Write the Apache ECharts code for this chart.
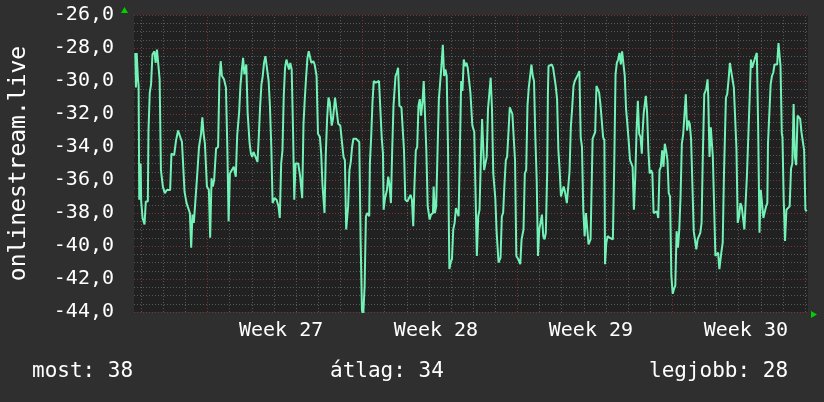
<!DOCTYPE html>
<html>
<head>
<meta charset="utf-8">
<title>onlinestream.live</title>
<script src="https://cdn.jsdelivr.net/npm/echarts@6/dist/echarts.min.js"></script>
<style>
  html, body { margin: 0; padding: 0; background: #2f2f2f; }
  #chart { width: 824px; height: 402px; }
</style>
</head>
<body>
<div id="chart"></div>
<script>
// hours since the left edge of the graph window
var hours = [
  1.4, 2.1, 2.9, 4.3, 5.0, 5.7, 7.2, 7.8, 9.3, 11.4, 12.8, 15.0, 15.7, 17.1, 18.5, 20.0, 22.1, 23.5, 24.9, 26.4,
  27.8, 29.2, 31.3, 33.4, 35.6, 39.2, 40.6, 43.5, 45.6, 47.8, 49.9, 52.0, 53.4, 54.8, 57.0, 59.1, 60.6, 62.0, 63.4, 64.9,
  67.0, 68.4, 70.5, 72.7, 74.1, 75.5, 76.9, 79.1, 81.2, 82.6, 84.1, 85.5, 86.9, 89.0, 91.2, 92.6, 94.0, 95.4, 97.6, 99.7,
  101.2, 102.6, 104.0, 106.1, 108.2, 110.4, 111.9, 114.0, 115.4, 116.8, 118.3, 119.7, 121.8, 123.2, 125.4, 126.8, 128.2, 129.6, 131.8, 133.9,
  135.3, 136.8, 138.2, 139.6, 141.0, 142.5, 143.9, 146.0, 147.4, 148.9, 150.3, 152.4, 154.6, 156.7, 158.1, 159.6, 161.0, 162.4, 163.8, 165.3,
  166.7, 168.1, 169.5, 171.0, 172.4, 173.8, 175.2, 178.1, 180.2, 182.4, 183.8, 185.2, 186.6, 188.1, 189.5, 190.9, 192.3, 194.5, 195.9, 198.0,
  199.5, 201.6, 203.0, 204.4, 206.6, 208.0, 209.4, 210.9, 212.3, 214.4, 215.8, 218.0, 219.4, 221.5, 223.7, 225.8, 227.2, 228.7, 230.1, 232.2,
  233.6, 235.1, 236.5, 237.9, 240.8, 242.9, 244.3, 245.8, 247.2, 248.6, 250.1, 251.5, 252.9, 255.1, 255.8, 257.2, 258.6, 260.0, 262.2, 263.6,
  265.7, 267.2, 268.6, 270.0, 270.7, 272.2, 274.3, 275.7, 277.1, 278.6, 280.0, 281.4, 283.6, 285.0, 286.4, 287.8, 290.0, 291.4, 292.8, 294.2,
  296.4, 298.5, 299.9, 301.4, 302.8, 304.2, 305.6, 307.1, 308.5, 309.9, 311.3, 312.8, 314.2, 315.6, 317.0, 318.5, 320.6, 322.0, 324.2, 324.9,
  326.3, 327.7, 329.2, 330.6, 332.0, 333.4, 334.9, 336.3, 337.7, 339.1, 340.5, 342.0, 343.4, 344.8, 346.2, 347.7, 349.1, 350.5, 352.0, 353.4,
  354.8, 356.2, 357.6, 359.1, 360.5, 361.9, 363.3, 364.8, 366.9, 369.0, 371.8, 373.3, 374.7, 376.1, 377.5, 379.0, 379.7, 381.1, 382.5, 383.9,
  385.4, 386.8, 388.2, 389.6, 391.8, 393.2, 395.3, 397.5, 398.9, 400.3, 401.8, 403.2, 404.6, 406.0, 407.5, 408.9, 410.3, 411.7, 413.2, 414.6,
  416.7, 418.9, 420.3, 422.4, 423.8, 425.3, 426.7, 428.1, 429.5, 431.0, 432.4, 433.8, 435.2, 436.7, 438.1, 439.5, 440.9, 442.4, 443.8, 445.2,
  446.6, 448.1, 448.8, 449.5, 451.6, 453.1, 454.5, 455.9, 457.3, 458.8, 460.2, 461.6, 463.0, 464.5, 465.9, 467.3, 469.4, 470.9, 472.3, 473.7,
  475.1, 476.6, 478.0, 480.1, 481.5, 483.0, 484.4, 485.8, 487.2, 488.7, 490.1, 491.5, 492.9, 495.1, 496.5, 497.3, 498.7, 500.1, 501.5, 503.0,
  504.4, 505.8, 507.2, 508.7, 510.1, 510.8, 512.2, 513.6, 515.8, 517.9, 519.3, 520.8, 522.2, 523.6, 525.0, 526.5, 527.9, 529.3, 530.7, 532.2,
  533.6, 535.0, 536.4, 537.9, 539.3, 540.7, 542.1, 543.6, 545.0, 546.4, 547.8, 549.3, 550.7, 551.4, 552.8, 554.3, 555.0, 556.4, 557.8, 559.2,
  560.7, 562.1, 563.5, 564.9, 567.1, 568.5, 569.9, 571.3, 572.8, 574.2, 575.6, 577.0, 578.5, 579.9, 581.3, 582.7, 584.2, 585.6, 587.0, 588.4,
  589.9, 591.3, 592.7, 594.1, 595.6, 597.0, 598.4, 599.8, 601.3, 602.7, 604.1, 605.5, 607.0, 608.4, 609.8, 611.2, 612.7, 614.1, 615.5, 616.9,
  618.4, 619.8, 620.5, 622.0, 622.7, 624.1, 625.5, 627.0, 627.7, 629.1, 630.5, 631.9, 633.4, 634.8, 636.2, 636.9, 638.4, 639.8, 641.2, 641.9,
  643.3, 644.8, 646.2, 647.6, 649.0, 650.5, 651.9, 653.3, 654.7, 656.2, 657.6, 659.0, 660.4, 661.9, 663.3, 664.7, 666.1, 667.6, 669.0, 670.4,
  671.8, 674.0, 675.4, 676.8, 678.3, 679.7, 681.1, 682.5, 684.0, 685.4, 686.8, 687.5, 688.9, 690.4, 691.8, 693.2, 694.6, 696.1, 697.5, 698.2,
  698.9, 700.3, 701.1, 702.5, 703.2, 704.6, 706.0, 707.5, 708.9, 711.0, 712.5, 713.9, 715.3, 716.7, 718.1, 719.6, 721.0, 722.4, 723.8, 725.3,
  726.7, 728.1, 729.5
];

var values = [
  -28.3, -30.4, -28.3, -29.9, -30.3, -37.2, -35.0, -37.3, -38.3, -38.7, -37.3, -37.3, -33.0, -30.7, -30.2, -28.4, -28.2, -28.9, -28.1, -28.1,
  -29.9, -35.4, -36.4, -36.8, -36.6, -36.6, -34.4, -34.5, -33.6, -33.0, -32.9, -33.7, -33.8, -36.7, -37.4, -37.5, -38.0, -40.1, -38.1, -38.6,
  -38.6, -35.8, -34.0, -33.2, -32.2, -33.2, -33.8, -36.4, -36.6, -39.5, -35.9, -36.4, -36.0, -34.1, -34.0, -29.9, -28.8, -29.7, -29.9, -30.4,
  -34.0, -38.5, -35.6, -35.5, -35.2, -35.8, -33.3, -31.9, -30.3, -29.4, -28.6, -29.6, -29.0, -31.9, -33.8, -34.4, -34.6, -34.3, -34.6, -34.9,
  -33.4, -31.5, -30.2, -29.7, -28.9, -28.5, -29.1, -30.0, -31.5, -34.0, -37.4, -37.1, -37.2, -37.6, -38.3, -35.0, -34.2, -30.9, -29.2, -28.7,
  -28.7, -29.3, -28.9, -29.3, -32.8, -37.2, -35.0, -35.0, -35.8, -37.1, -32.6, -31.1, -29.8, -28.6, -28.2, -28.2, -28.9, -28.8, -29.0, -29.7,
  -33.2, -33.4, -34.4, -36.3, -38.0, -34.4, -32.3, -31.0, -31.3, -32.7, -32.3, -31.0, -31.1, -32.6, -32.7, -32.7, -34.6, -34.8, -39.0, -37.6,
  -35.4, -34.9, -34.0, -33.5, -33.5, -33.5, -33.7, -39.8, -43.9, -44.2, -42.4, -38.2, -38.0, -38.2, -35.0, -33.4, -31.3, -30.0, -30.1, -30.0,
  -30.0, -30.1, -33.4, -34.4, -37.8, -37.1, -36.6, -35.8, -36.3, -37.4, -34.2, -31.5, -29.7, -29.5, -29.2, -31.5, -31.6, -31.7, -34.2, -37.2,
  -37.3, -37.4, -36.9, -37.2, -38.8, -36.2, -34.2, -34.0, -31.5, -31.1, -32.1, -31.3, -30.0, -32.1, -34.2, -37.6, -38.4, -38.1, -38.0, -36.4,
  -38.0, -37.6, -34.2, -31.1, -30.1, -29.1, -27.8, -29.7, -29.3, -29.7, -34.0, -41.4, -41.0, -40.8, -39.0, -38.6, -37.7, -37.8, -38.2, -34.2,
  -30.0, -30.6, -28.7, -29.1, -28.9, -29.2, -29.2, -30.7, -32.7, -33.1, -40.6, -38.2, -37.8, -34.8, -32.3, -32.3, -35.4, -35.4, -34.6, -31.7,
  -31.7, -29.8, -31.7, -35.6, -37.1, -39.1, -41.0, -40.7, -38.2, -38.0, -36.2, -34.8, -34.6, -33.2, -31.6, -31.5, -32.0, -32.1, -34.8, -40.6,
  -40.8, -41.1, -39.6, -39.0, -35.6, -35.4, -31.5, -30.4, -30.3, -29.0, -29.7, -30.0, -33.4, -36.0, -40.6, -39.0, -39.0, -38.1, -39.4, -39.6,
  -39.2, -35.4, -30.9, -29.1, -29.2, -29.0, -29.2, -29.3, -30.3, -31.1, -34.2, -35.4, -37.0, -36.9, -36.4, -36.7, -37.4, -37.4, -35.5, -32.8,
  -31.7, -30.3, -30.0, -29.9, -29.6, -29.4, -33.4, -34.0, -37.8, -39.4, -38.0, -38.0, -39.9, -39.6, -35.8, -33.5, -33.3, -33.1, -30.3, -30.3,
  -30.7, -31.4, -31.5, -33.4, -33.6, -41.1, -39.8, -39.4, -39.5, -39.6, -39.6, -35.0, -29.6, -28.9, -28.7, -28.3, -29.0, -28.2, -28.1, -29.7,
  -31.7, -32.6, -33.6, -34.8, -35.0, -35.2, -37.8, -35.8, -33.0, -31.2, -33.2, -33.4, -34.4, -33.2, -31.9, -31.9, -30.9, -31.9, -34.2, -35.6,
  -35.4, -35.6, -38.0, -38.0, -37.9, -38.3, -35.4, -35.2, -34.2, -35.2, -33.8, -34.2, -34.8, -36.8, -37.0, -41.8, -42.9, -42.6, -42.4, -39.1,
  -40.1, -39.0, -37.0, -33.8, -33.2, -33.1, -30.8, -33.0, -32.4, -32.6, -33.5, -33.6, -39.1, -39.2, -40.2, -39.6, -39.5, -39.2, -38.6, -34.4,
  -30.8, -30.7, -30.5, -29.9, -30.9, -34.6, -32.8, -32.8, -34.6, -34.6, -40.6, -40.6, -40.4, -41.4, -41.3, -40.4, -39.8, -35.6, -35.6, -31.0,
  -30.8, -29.9, -28.9, -29.4, -29.4, -30.4, -30.5, -34.1, -38.6, -38.2, -37.4, -37.6, -37.7, -39.0, -39.0, -35.7, -35.6, -31.1, -28.7, -29.2,
  -29.1, -28.5, -28.3, -32.6, -39.2, -36.6, -36.6, -38.3, -38.2, -37.6, -37.4, -33.8, -33.7, -30.2, -29.7, -29.5, -29.0, -28.9, -29.0, -28.3,
  -27.7, -27.7, -29.1, -33.2, -33.4, -37.3, -39.7, -37.8, -37.7, -37.6, -35.3, -35.0, -31.4, -34.6, -35.1, -32.1, -32.2, -32.3, -33.1, -33.2,
  -34.2, -37.8, -37.9
];

var windowHours = 730.9;     // width of the graph window
var firstMidnight = 7.8;     // first day boundary in the window
var weekStartDays = [3, 10, 17, 24];
var weekCenters = [159.5, 327.5, 495.5, 663.5];
var weekLabels = ['Week 27', 'Week 28', 'Week 29', 'Week 30'];
var legendTexts = ['most: 38', 'átlag: 34', 'legjobb: 28'];

var MONO = "'DejaVu Sans Mono', 'Liberation Mono', monospace";

var points = [];
for (var i = 0; i < hours.length; i++) {
  points.push([hours[i], values[i]]);
}

// day / week grid lines
var gridLines = [];
for (var d = 0; firstMidnight + d * 24 < windowHours; d++) {
  var major = weekStartDays.indexOf(d) != -1;
  gridLines.push({
    xAxis: firstMidnight + d * 24,
    lineStyle: {
      color: major ? '#7a3434' : '#575757',
      type: [1, 2],
      width: 1
    }
  });
}

var myChart = echarts.init(document.getElementById('chart'), null, { renderer: 'canvas' });

var option = {
  animation: false,
  backgroundColor: '#2f2f2f',
  textStyle: { fontFamily: MONO },
  grid: {
    left: 124, right: 16, top: 15, bottom: 90,
    show: true,
    backgroundColor: '#212121',
    borderWidth: 0
  },
  title: [
    { text: legendTexts[0], left: 32, top: 361, padding: 0,
      textStyle: { color: '#ffffff', fontFamily: MONO, fontSize: 21, fontWeight: 'normal' } },
    { text: legendTexts[1], left: 330, top: 361, padding: 0,
      textStyle: { color: '#ffffff', fontFamily: MONO, fontSize: 21, fontWeight: 'normal' } },
    { text: legendTexts[2], left: 649, top: 361, padding: 0,
      textStyle: { color: '#ffffff', fontFamily: MONO, fontSize: 21, fontWeight: 'normal' } }
  ],
  xAxis: {
    type: 'value',
    min: 0,
    max: windowHours,
    axisLine: { show: false },
    axisTick: { show: false },
    splitLine: { show: false },
    axisLabel: {
      customValues: weekCenters,
      color: '#ffffff',
      fontFamily: MONO,
      fontSize: 20,
      margin: 9,
      formatter: function(v) {
        for (var k = 0; k < weekCenters.length; k++) {
          if (Math.abs(weekCenters[k] - v) < 0.01) return weekLabels[k];
        }
        return '';
      }
    }
  },
  yAxis: {
    type: 'value',
    min: -44,
    max: -26,
    interval: 2,
    name: 'onlinestream.live',
    nameLocation: 'middle',
    nameRotate: 90,
    nameGap: 103,
    nameTextStyle: { color: '#ffffff', fontFamily: MONO, fontSize: 23 },
    axisLine: { show: false },
    axisTick: { show: false },
    axisLabel: {
      color: '#ffffff',
      fontFamily: MONO,
      fontSize: 20,
      margin: 20,
      formatter: function(v) {
        return v.toFixed(1).replace('.', ',');
      }
    },
    splitLine: {
      show: true,
      lineStyle: { color: '#7a3434', type: [1, 2], width: 1 }
    },
    minorTick: { show: false, splitNumber: 4 },
    minorSplitLine: {
      show: true,
      lineStyle: { color: '#575757', type: [1, 2], width: 1 }
    }
  },
  graphic: [
    { type: 'polygon', shape: { points: [[121, 13], [128, 13], [124.5, 7]] },
      style: { fill: '#00d000' }, z: 100 },
    { type: 'polygon', shape: { points: [[811, 311], [811, 318], [817, 314.5]] },
      style: { fill: '#00d000' }, z: 100 }
  ],
  series: [{
    name: 'onlinestream.live',
    type: 'line',
    data: points,
    showSymbol: false,
    symbol: 'none',
    z: 3,
    lineStyle: { color: '#72f2b6', width: 2 },
    markLine: {
      silent: true,
      z: 1,
      symbol: ['none', 'none'],
      label: { show: false },
      animation: false,
      data: gridLines
    }
  }]
};

myChart.setOption(option);
</script>
</body>
</html>
